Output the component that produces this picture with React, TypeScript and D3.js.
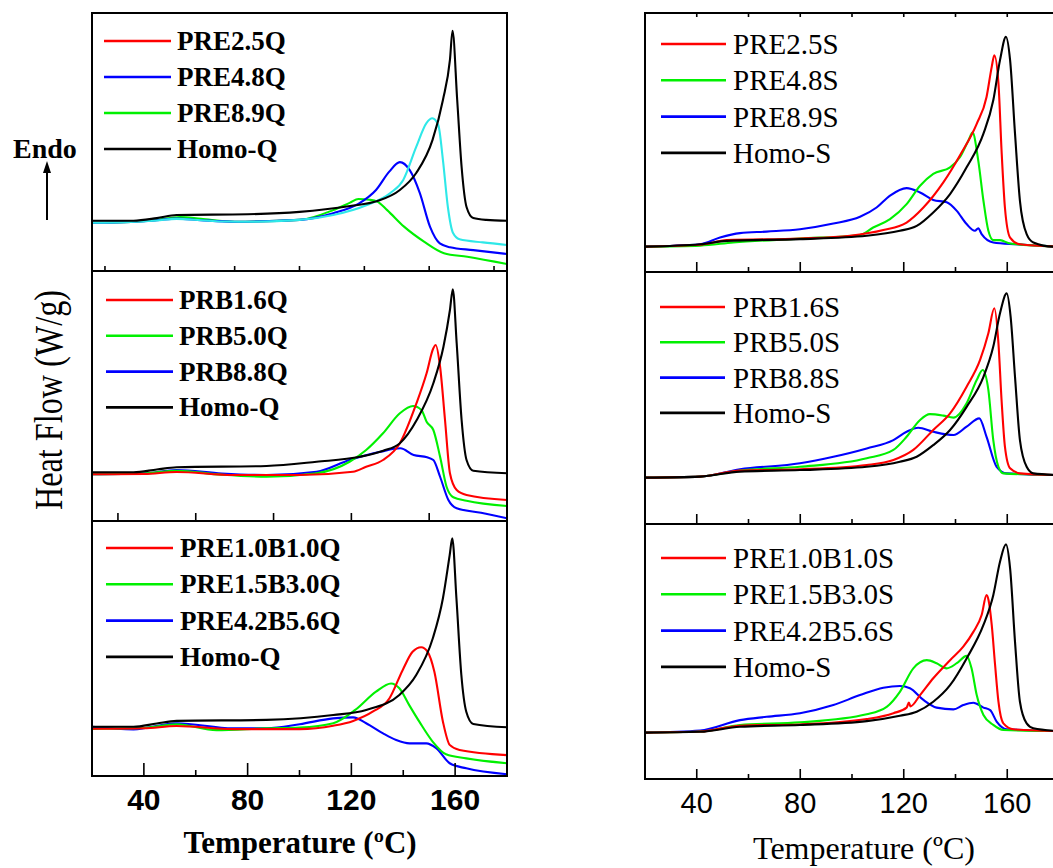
import React from "react";
import * as d3 from "d3";

type Pt = [number, number];

// ---------- Quenched samples (left column) ----------
const q1Labels = ["PRE2.5Q", "PRE4.8Q", "PRE8.9Q", "Homo-Q"];
const q1Pre25: Pt[] = [[20,1.87],[35,1.90],[45,1.96],[52.6,2.02],[62,1.97],[70,1.92],[81,1.91],[100,1.98],[113,2.17],[126,2.56],[135,3.02],[140,3.53],[145,4.81],[149,5.74],[151.2,5.92],[153.5,5.66],[155.3,4.30],[157.2,2.48],[159.2,1.47],[161.7,1.23],[170.7,1.11],[180,1.01]];
const q1Pre48: Pt[] = [[20,1.87],[35,1.90],[45,1.97],[52.6,2.03],[62,1.97],[75,1.91],[100,1.98],[113,2.24],[123,2.62],[129.5,3.14],[134.6,3.85],[138.7,4.22],[142.5,3.91],[146.4,3.02],[150.3,1.72],[154.1,1.07],[158,0.92],[167,0.81],[180,0.66]];
const q1Pre89: Pt[] = [[20,1.87],[35,1.90],[45,1.98],[54,2.09],[62,2.02],[75,1.91],[100,1.98],[113,2.36],[119.5,2.65],[122.7,2.79],[127,2.76],[130,2.69],[133.8,2.36],[140.3,1.72],[148,1.14],[155.7,0.69],[164.7,0.55],[180,0.27]];
const q1Homo: Pt[] = [[20,1.95],[36,1.95],[45,2.05],[52.6,2.17],[80,2.20],[100,2.29],[119.5,2.52],[130,2.71],[138.7,3.14],[145,3.80],[151.3,5.08],[155.3,6.63],[158,8.18],[159,9.31],[160.8,6.63],[162.5,4.03],[164.4,2.48],[167,2.05],[172,1.98],[180,1.95]];

const q2Labels = ["PRB1.6Q", "PRB5.0Q", "PRB8.8Q", "Homo-Q"];
const q2Prb16: Pt[] = [[20,1.87],[40,1.88],[52.6,1.96],[74.4,1.84],[100,1.84],[120.6,1.97],[125.7,2.17],[132.2,2.44],[138.7,3.11],[145.1,4.71],[149,5.91],[151.6,6.91],[152.5,7.04],[154.2,6.17],[156.1,4.04],[158,1.91],[160.6,1.24],[164.4,1.04],[180,0.84]];
const q2Prb50: Pt[] = [[20,1.87],[40,1.9],[52.6,2.01],[70,1.85],[87.3,1.77],[106.6,1.91],[119.3,2.37],[125.7,2.84],[132.2,3.51],[138.7,4.31],[143.8,4.6],[147,4.44],[149,3.97],[151.6,3.64],[154.2,2.57],[156.7,1.37],[159.3,0.95],[164.4,0.81],[180,0.6]];
const q2Prb88: Pt[] = [[20,1.87],[40,1.9],[52.6,2.04],[70,1.9],[87.3,1.84],[106.6,1.97],[119.3,2.44],[131.2,2.77],[138.9,2.91],[144,2.64],[149.2,2.55],[151.6,2.44],[154.2,1.77],[157.4,0.84],[160.6,0.51],[170,0.33],[180,0.11]];
const q2Homo: Pt[] = [[20,1.95],[36,1.95],[45,2.06],[52.6,2.15],[87.3,2.2],[106.6,2.37],[123.3,2.57],[132.3,2.81],[138.7,3.11],[145.2,4.04],[151.6,5.51],[155.5,6.97],[158,8.44],[159.1,9.27],[160.6,7.11],[162.5,4.04],[164.4,2.44],[167,2.01],[180,1.91]];

const q3Labels = ["PRE1.0B1.0Q", "PRE1.5B3.0Q", "PRE4.2B5.6Q", "Homo-Q"];
const q3Eb10: Pt[] = [[20,1.85],[40,1.87],[52.6,1.96],[74.4,1.84],[100,1.84],[113,1.97],[120.7,2.16],[128.2,2.52],[134.7,3.05],[139.8,4.16],[143.6,4.87],[146.9,5.05],[149.4,4.87],[152,4.09],[155.3,2.13],[157.9,1.22],[161.7,1.02],[180,0.82]];
const q3Eb15: Pt[] = [[20,1.85],[40,1.88],[52.6,2.03],[68,1.8],[87,1.87],[100,1.9],[113,2.07],[121.5,2.59],[129.5,3.31],[135.3,3.63],[138.5,3.44],[142.3,2.78],[146.2,2.13],[151.4,1.34],[156.5,0.85],[164.3,0.69],[180,0.5]];
const q3Eb42: Pt[] = [[20,1.93],[36,1.83],[52.6,2.07],[74.4,1.87],[87.3,1.87],[100.1,2.03],[113,2.26],[120.7,2.3],[125.7,2.07],[132.2,1.67],[137.3,1.41],[142.4,1.28],[148.9,1.28],[152.7,1.09],[157.9,0.5],[164.3,0.3],[180,0.07]];
const q3Homo: Pt[] = [[20,1.93],[36,1.93],[45,2.06],[52.6,2.16],[87.3,2.2],[113,2.39],[125.7,2.59],[138.5,3.18],[145,3.96],[151.4,5.4],[155.3,6.97],[157.9,8.66],[158.9,9.32],[160.5,6.97],[162.4,3.96],[164.3,2.52],[167,2.04],[180,1.91]];

// ---------- Slowly cooled samples (right column) ----------
const s1Labels = ["PRE2.5S", "PRE4.8S", "PRE8.9S", "Homo-S"];
const s1Pre25: Pt[] = [[20,0.98],[41.3,1.05],[51.6,1.23],[79.9,1.29],[99.2,1.4],[112.1,1.62],[121.1,1.91],[127.6,2.49],[135.3,3.46],[141.7,4.5],[148.2,5.72],[152,6.76],[154,7.92],[155,8.37],[156.6,7.28],[157.8,4.69],[159.1,2.49],[161.1,1.33],[164.9,1.07],[180,0.98]];
const s1Pre48: Pt[] = [[20,0.98],[41.3,1.02],[54.1,1.14],[79.9,1.29],[103.1,1.43],[108.2,1.72],[114.7,2.04],[121.1,2.62],[126.3,3.33],[131.4,3.79],[137.9,4.04],[141.7,4.43],[145,5.08],[146.6,5.38],[148.8,4.3],[150.8,2.75],[152.7,1.59],[154.6,1.23],[157.2,1.23],[161.1,1.1],[180,0.98]];
const s1Pre89: Pt[] = [[20,0.98],[41.3,1.07],[49,1.33],[56.7,1.5],[67,1.56],[79.9,1.65],[92.8,1.87],[103.1,2.13],[109.5,2.49],[114.7,2.95],[121.1,3.24],[126.3,3.07],[131.4,2.78],[136.6,2.69],[140.5,2.36],[144.3,1.85],[147.5,1.59],[148.8,1.69],[150.1,1.46],[154.6,1.14],[163.6,1.07],[180,0.98]];
const s1Homo: Pt[] = [[20,0.98],[41.3,1.07],[51.6,1.2],[79.9,1.27],[105.7,1.4],[118.5,1.59],[125,1.78],[131.4,2.3],[137.9,3.01],[144.3,4.04],[150.8,5.34],[154.6,6.63],[157.2,8.18],[159.5,9.08],[161.1,8.18],[163,5.34],[164.9,2.75],[167.5,1.46],[170.1,1.14],[177.7,0.98],[180,0.98]];

const s2Labels = ["PRB1.6S", "PRB5.0S", "PRB8.8S", "Homo-S"];
const s2Prb16: Pt[] = [[20,1.84],[41.3,1.88],[56.7,2.12],[79.9,2.17],[105.7,2.34],[116,2.54],[123.7,2.94],[131.4,3.73],[137.9,4.39],[144.3,5.45],[149.5,6.51],[152.7,7.57],[155,8.56],[156.6,7.17],[157.8,4.92],[159.1,3.07],[161.1,2.21],[164.9,2.01],[180,1.94]];
const s2Prb50: Pt[] = [[20,1.84],[41.3,1.88],[56.7,2.12],[79.9,2.27],[105.7,2.61],[116,2.94],[121.1,3.46],[126.3,4.13],[130.1,4.36],[135.3,4.3],[139.2,4.22],[144.3,4.79],[148.2,5.71],[150.5,6.11],[152.7,5.32],[154.6,3.33],[156.6,2.27],[158.5,2.01],[180,1.94]];
const s2Prb88: Pt[] = [[20,1.84],[41.3,1.88],[56.7,2.17],[79.9,2.41],[92.8,2.67],[105.7,3.0],[116,3.33],[121.1,3.66],[125.6,3.82],[131.4,3.66],[139.2,3.53],[144.3,3.86],[149.2,4.19],[152,3.46],[155.9,2.27],[159.8,2.01],[180,1.94]];
const s2Homo: Pt[] = [[20,1.84],[41.3,1.88],[56.7,2.08],[79.9,2.14],[105.7,2.27],[118.5,2.47],[125,2.67],[131.4,3.13],[137.9,3.73],[144.3,4.65],[150.8,5.84],[154.6,7.04],[157.2,8.36],[159.8,9.15],[161.3,8.23],[163,5.84],[164.9,3.33],[167.5,2.27],[170.1,2.01],[180,1.94]];

const s3Labels = ["PRE1.0B1.0S", "PRE1.5B3.0S", "PRE4.2B5.6S", "Homo-S"];
const s3Eb10: Pt[] = [[20,1.82],[41.3,1.86],[56.7,2.09],[79.9,2.14],[105.7,2.35],[116,2.58],[121.1,2.8],[122,3.0],[122.6,2.85],[126.3,3.29],[131.4,3.95],[137.9,4.66],[143,5.19],[146.9,5.77],[150.1,6.43],[152,7.21],[152.8,7.0],[154,6.04],[155.3,4.47],[156.6,3.03],[158.5,2.18],[162.4,1.95],[180,1.88]];
const s3Eb15: Pt[] = [[20,1.82],[41.3,1.86],[56.7,2.12],[79.9,2.22],[105.7,2.54],[113.4,2.83],[118.5,3.42],[123.7,4.34],[128.9,4.66],[132.7,4.54],[136.6,4.34],[140.5,4.54],[144.3,4.83],[146.2,4.34],[148.2,3.29],[150.8,2.51],[154.6,2.12],[158.5,1.92],[180,1.88]];
const s3Eb42: Pt[] = [[20,1.82],[41.3,1.9],[56.7,2.31],[67,2.44],[79.9,2.58],[92.8,2.9],[103.1,3.29],[112.1,3.58],[118.5,3.65],[122.4,3.56],[127.6,3.1],[132.7,2.8],[139.2,2.73],[143,2.9],[146.9,2.99],[150.8,2.8],[153.4,2.7],[155.9,2.25],[159.8,1.95],[180,1.88]];
const s3Homo: Pt[] = [[20,1.82],[41.3,1.85],[56.7,2.05],[79.9,2.12],[105.7,2.27],[118.5,2.48],[125,2.64],[131.4,3.03],[137.9,3.68],[144.3,4.73],[150.8,6.04],[154.6,7.21],[157.2,8.52],[159.5,9.2],[161.1,8.26],[163,5.38],[164.9,3.03],[167.5,2.18],[170.1,1.99],[180,1.88]];

// axis values
const tempDomain: [number, number] = [20, 180];
const bottomTickLabels = [40, 80, 120, 160];
const q1Ticks = [25, 50, 75, 100, 125, 150, 175];
const q2Ticks = [30, 60, 90, 120, 150];
const q3Ticks = [40, 60, 80, 100, 120, 140, 160];
const sTicks = [40, 60, 80, 100, 120, 140, 160];

const RED = "#ff0000";
const GREEN = "#00f000";
const BLUE = "#0000ff";
const CYAN = "#2ee8e8";
const BLACK = "#000000";

type Series = { data: Pt[]; color: string };
type LegendItem = { label: string; color: string };

interface PanelProps {
  x: d3.ScaleLinear<number, number>;
  top: number;
  bottom: number;
  series: Series[];
  legend: LegendItem[];
  legendY: number;
  legendGap: number;
  legendX: [number, number, number];
  legendFont: React.CSSProperties;
  baselineShift: number;
  ticks: number[];
  tickLen: (t: number) => number;
  topTicks?: boolean;
  clipId: string;
}

function Panel(p: PanelProps) {
  const y = d3.scaleLinear().domain([0, 10]).range([p.bottom, p.top]);
  const line = d3
    .line<Pt>()
    .x((d) => p.x(d[0]))
    .y((d) => y(d[1]))
    .curve(d3.curveMonotoneX);
  const [x0, x1] = p.x.range();
  return (
    <g>
      <clipPath id={p.clipId}>
        <rect x={x0} y={p.top} width={x1 - x0} height={p.bottom - p.top} />
      </clipPath>
      <g clipPath={`url(#${p.clipId})`}>
        {p.series.map((s, i) => (
          <path key={i} d={line(s.data) || ""} fill="none" stroke={s.color} strokeWidth={2.1} strokeLinejoin="round" />
        ))}
      </g>
      {p.ticks.map((t) => (
        <line key={"b" + t} x1={p.x(t)} x2={p.x(t)} y1={p.bottom} y2={p.bottom - p.tickLen(t)} stroke="#000" strokeWidth={1.6} />
      ))}
      {p.topTicks &&
        p.ticks.map((t) => (
          <line key={"t" + t} x1={p.x(t)} x2={p.x(t)} y1={p.top} y2={p.top + 4} stroke="#000" strokeWidth={1.6} />
        ))}
      {p.legend.map((l, i) => {
        const ly = p.legendY + i * p.legendGap;
        return (
          <g key={l.label}>
            <line x1={p.legendX[0]} x2={p.legendX[1]} y1={ly} y2={ly} stroke={l.color} strokeWidth={2.6} />
            <text x={p.legendX[2]} y={ly + p.baselineShift} style={p.legendFont}>
              {l.label}
            </text>
          </g>
        );
      })}
      <rect x={x0} y={p.top} width={x1 - x0} height={p.bottom - p.top} fill="none" stroke="#000" strokeWidth={2} />
    </g>
  );
}

export default function App() {
  const xL = d3.scaleLinear().domain(tempDomain).range([92, 507]);
  const xR = d3.scaleLinear().domain(tempDomain).range([645, 1059]);

  const boldSerif: React.CSSProperties = { fontFamily: "'Liberation Serif', 'Times New Roman', serif", fontWeight: 700, fontSize: 27 };
  const serif: React.CSSProperties = { fontFamily: "'Liberation Serif', 'Times New Roman', serif", fontSize: 29 };
  const colors4 = [RED, GREEN, BLUE, BLACK];
  const legendOf = (labels: string[], cols: string[]) => labels.map((label, i) => ({ label, color: cols[i] }));
  const sLen = (t: number) => (t % 40 === 0 ? 10 : 5);

  return (
    <svg width={1053} height={868} style={{ position: "absolute", left: 0, top: 0, background: "#fff" }}>
      <rect x={0} y={0} width={1053} height={868} fill="#fff" />

      {/* left column: quenched */}
      <Panel
        x={xL} top={13} bottom={271} clipId="cq1"
        series={[{ data: q1Pre89, color: GREEN }, { data: q1Pre48, color: BLUE }, { data: q1Pre25, color: CYAN }, { data: q1Homo, color: BLACK }]}
        legend={legendOf(q1Labels, [RED, BLUE, GREEN, BLACK])}
        legendY={41} legendGap={36} legendX={[104, 171, 177]} legendFont={boldSerif} baselineShift={9}
        ticks={q1Ticks} tickLen={() => 5}
      />
      <Panel
        x={xL} top={271} bottom={521} clipId="cq2"
        series={[{ data: q2Prb88, color: BLUE }, { data: q2Prb50, color: GREEN }, { data: q2Prb16, color: RED }, { data: q2Homo, color: BLACK }]}
        legend={legendOf(q2Labels, colors4)}
        legendY={300} legendGap={35.8} legendX={[106, 173, 179]} legendFont={boldSerif} baselineShift={9}
        ticks={q2Ticks} tickLen={() => 8}
      />
      <Panel
        x={xL} top={521} bottom={776} clipId="cq3"
        series={[{ data: q3Eb42, color: BLUE }, { data: q3Eb15, color: GREEN }, { data: q3Eb10, color: RED }, { data: q3Homo, color: BLACK }]}
        legend={legendOf(q3Labels, colors4)}
        legendY={548} legendGap={36.3} legendX={[106, 173, 180]} legendFont={boldSerif} baselineShift={9}
        ticks={q3Ticks} tickLen={(t) => (t % 40 === 0 ? 13 : 6)}
      />

      {/* right column: slowly cooled */}
      <Panel
        x={xR} top={13} bottom={272} clipId="cs1"
        series={[{ data: s1Pre89, color: BLUE }, { data: s1Pre48, color: GREEN }, { data: s1Pre25, color: RED }, { data: s1Homo, color: BLACK }]}
        legend={legendOf(s1Labels, colors4)}
        legendY={44} legendGap={36.3} legendX={[661, 726, 733]} legendFont={serif} baselineShift={10}
        ticks={sTicks} tickLen={sLen} topTicks
      />
      <Panel
        x={xR} top={272} bottom={524} clipId="cs2"
        series={[{ data: s2Prb88, color: BLUE }, { data: s2Prb50, color: GREEN }, { data: s2Prb16, color: RED }, { data: s2Homo, color: BLACK }]}
        legend={legendOf(s2Labels, colors4)}
        legendY={307} legendGap={35.3} legendX={[660, 725, 733]} legendFont={serif} baselineShift={10}
        ticks={sTicks} tickLen={sLen}
      />
      <Panel
        x={xR} top={524} bottom={779} clipId="cs3"
        series={[{ data: s3Eb42, color: BLUE }, { data: s3Eb15, color: GREEN }, { data: s3Eb10, color: RED }, { data: s3Homo, color: BLACK }]}
        legend={legendOf(s3Labels, colors4)}
        legendY={558} legendGap={36.3} legendX={[661, 726, 733]} legendFont={serif} baselineShift={10}
        ticks={sTicks} tickLen={sLen}
      />

      {/* tick labels */}
      {bottomTickLabels.map((t) => (
        <text key={"lx" + t} x={xL(t)} y={810} textAnchor="middle"
          style={{ fontFamily: "'Liberation Sans', Arial, sans-serif", fontWeight: 700, fontSize: 30 }}>
          {t}
        </text>
      ))}
      {bottomTickLabels.map((t) => (
        <text key={"rx" + t} x={xR(t)} y={813} textAnchor="middle"
          style={{ fontFamily: "'Liberation Sans', Arial, sans-serif", fontSize: 29 }}>
          {t}
        </text>
      ))}

      {/* axis titles */}
      <text x={300} y={853} textAnchor="middle" style={{ ...boldSerif, fontSize: 31 }}>
        Temperature (ºC)
      </text>
      <text x={864} y={859} textAnchor="middle" style={{ ...serif, fontSize: 32 }}>
        Temperature (ºC)
      </text>
      <text transform="translate(62,400) rotate(-90)" textAnchor="middle" textLength={220} lengthAdjust="spacingAndGlyphs"
        style={{ fontFamily: "'Liberation Serif', 'Times New Roman', serif", fontSize: 40 }}>
        Heat Flow (W/g)
      </text>

      {/* endotherm direction */}
      <text x={13} y={158} style={{ ...boldSerif, fontSize: 28 }}>Endo</text>
      <line x1={47} x2={47} y1={220} y2={170} stroke="#000" strokeWidth={2} />
      <path d="M47,161 L43,173 L51,173 Z" fill="#000" />
    </svg>
  );
}
